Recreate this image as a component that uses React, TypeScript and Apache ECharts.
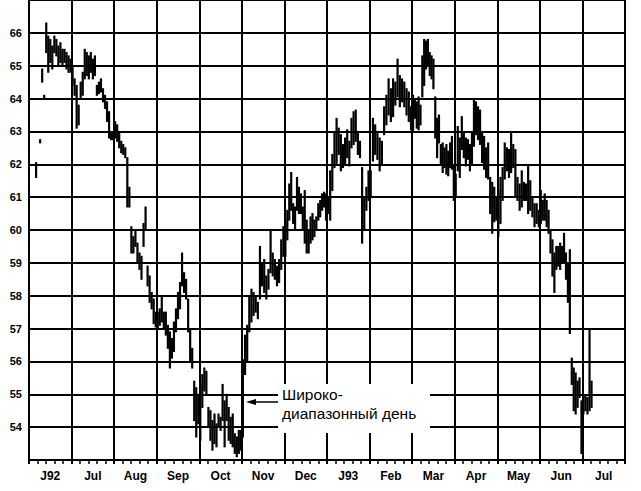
import React, { useEffect, useRef } from "react";
import * as echarts from "echarts";

// Month labels for the x axis (June 1992 .. July 1993)
const monthLabels = ["J92", "Jul", "Aug", "Sep", "Oct", "Nov", "Dec", "J93", "Feb", "Mar", "Apr", "May", "Jun", "Jul"];

// Y axis range (labels shown 54..66)
const priceMin = 53;
const priceMax = 67;

type Bar = [number, number] | null; // [low, high] per trading day

const jun92: Bar[] = [null, null, null, [61.6, 62.05], null, [62.65, 62.75], [64.5, 64.9], [64.0, 64.1], [65.4, 66.3], [64.8, 65.9], [65.1, 65.8], [64.9, 65.6], [65.4, 65.9], [65.3, 65.8], [65.0, 65.6], [65.1, 65.7], [65.0, 65.5], [65.1, 65.5], [64.9, 65.4], [64.8, 65.3], [64.8, 65.2]];
const jul92: Bar[] = [[64.4, 65.0], [64.1, 64.6], [63.1, 64.4], [63.2, 63.8], [64.0, 64.5], [64.1, 64.8], [64.6, 65.5], [64.7, 65.4], [64.6, 65.3], [64.8, 65.4], [64.6, 65.2], [64.7, 65.3], [64.1, 64.4], [64.15, 64.5], [64.2, 64.6], [63.9, 64.3], [63.7, 64.1], [63.3, 63.9], [62.8, 63.6], [62.75, 63.0], [62.75, 62.95]];
const aug92: Bar[] = [[62.8, 63.3], [62.7, 63.2], [62.5, 63.0], [62.35, 62.7], [62.3, 62.6], [62.2, 62.5], [60.7, 62.2], [60.7, 61.3], [59.3, 60.1], [59.3, 59.8], [59.5, 60.0], [59.0, 59.6], [58.8, 59.3], [58.5, 59.2], [59.5, 60.2], [60.0, 60.7], [58.3, 58.9], [57.8, 58.6], [57.6, 58.1], [57.15, 57.9], [57.05, 57.5]];
const sep92: Bar[] = [[57.0, 57.5], [57.1, 57.6], [57.2, 58.0], [57.0, 57.5], [56.8, 57.5], [56.4, 57.1], [55.8, 56.9], [56.1, 56.7], [56.3, 57.2], [56.9, 57.6], [57.3, 58.1], [57.6, 58.4], [58.3, 59.3], [58.1, 58.7], [57.9, 58.5], [56.9, 57.9], [56.0, 57.0], [55.8, 56.4], [54.2, 55.4], [53.7, 55.2], [54.1, 55.0]];
const oct92: Bar[] = [[53.6, 55.3], [54.6, 55.6], [55.1, 55.8], [55.0, 55.7], [54.0, 54.6], [53.6, 54.5], [53.3, 54.2], [53.5, 54.4], [53.4, 54.1], [54.0, 54.4], [53.9, 54.3], [54.2, 55.3], [53.4, 54.8], [54.2, 55.0], [53.6, 54.6], [53.5, 54.3], [53.4, 54.4], [53.2, 53.8], [53.1, 53.7], [53.2, 53.9], [53.3, 53.9]];
const nov92: Bar[] = [[53.7, 56.05], [55.6, 56.8], [56.0, 57.1], [56.9, 58.0], [57.2, 58.2], [57.4, 58.1], [57.5, 58.0], [57.3, 57.8], [57.9, 59.5], [58.3, 59.0], [58.1, 59.1], [57.9, 58.6], [58.2, 58.8], [58.7, 60.0], [58.6, 59.3], [58.5, 59.1], [58.3, 58.9], [58.4, 59.1], [58.8, 59.7], [59.2, 60.1]];
const dec92: Bar[] = [[59.2, 60.3], [59.7, 60.6], [60.3, 61.4], [60.6, 61.75], [60.2, 60.8], [60.0, 60.7], [60.6, 61.6], [60.5, 61.3], [60.5, 61.1], [60.0, 60.7], [59.6, 61.2], [59.3, 60.3], [59.3, 60.0], [59.6, 60.4], [59.7, 60.5], [59.8, 60.3], [60.0, 60.4], [60.3, 60.8], [60.4, 60.9], [60.6, 61.1], [60.7, 61.15], [60.3, 61.1]];
const jan93: Bar[] = [[60.5, 61.0], [60.3, 61.8], [61.2, 62.3], [61.9, 63.0], [62.0, 63.4], [62.3, 63.1], [61.8, 62.9], [61.9, 62.6], [62.0, 62.8], [62.2, 63.05], [61.95, 62.7], [62.5, 63.4], [62.6, 63.6], [62.7, 63.65], [62.3, 63.0], [62.2, 62.7], [59.6, 61.9], [60.0, 61.0], [60.6, 61.3], [60.9, 61.8]];
const feb93: Bar[] = [[61.0, 61.8], [62.1, 63.4], [62.3, 63.2], [62.15, 63.0], [61.8, 62.8], [62.0, 62.7], [62.9, 63.75], [63.2, 64.1], [63.5, 64.6], [63.3, 64.3], [63.45, 64.6], [63.8, 64.5], [64.05, 65.2], [63.75, 64.7], [63.9, 64.6], [63.75, 64.5], [63.5, 64.3], [63.3, 64.2], [63.05, 63.75]];
const mar93: Bar[] = [[63.0, 64.1], [63.4, 64.0], [63.1, 63.9], [63.05, 64.05], [63.2, 63.8], [64.05, 65.3], [64.4, 65.8], [64.9, 65.75], [65.0, 65.8], [64.7, 65.4], [64.6, 65.3], [64.3, 65.2], [62.8, 64.05], [62.2, 63.4], [62.65, 63.5], [62.0, 62.6], [61.75, 62.65], [61.9, 62.5], [61.7, 62.6], [61.65, 62.4], [61.9, 62.65], [61.85, 62.85], [60.9, 62.0]];
const apr93: Bar[] = [[61.0, 61.7], [61.8, 63.15], [61.6, 62.8], [62.45, 63.45], [62.2, 63.0], [61.95, 62.8], [62.15, 62.75], [61.8, 62.6], [62.0, 63.0], [62.55, 64.0], [62.9, 63.9], [62.75, 63.75], [62.6, 63.65], [62.05, 63.0], [61.85, 62.85], [61.6, 62.5], [61.55, 62.65], [60.5, 61.6], [59.9, 61.45], [60.25, 61.3], [60.3, 61.0]];
const may93: Bar[] = [[59.8, 61.2], [60.2, 61.6], [60.9, 61.9], [61.55, 62.65], [61.8, 62.5], [61.6, 62.45], [61.75, 63.0], [61.9, 62.6], [61.0, 62.45], [60.9, 61.6], [60.6, 61.4], [60.7, 61.8], [60.9, 61.45], [60.9, 61.4], [60.5, 61.95], [60.6, 61.5], [60.4, 61.0], [60.1, 60.8], [60.2, 60.8], [60.1, 60.6]];
const jun93: Bar[] = [[60.2, 61.2], [60.3, 60.9], [60.3, 61.1], [60.1, 60.9], [59.9, 60.6], [59.3, 60.0], [58.6, 59.7], [58.1, 59.3], [58.8, 59.5], [58.9, 59.5], [58.8, 59.6], [59.0, 59.5], [59.0, 59.9], [58.5, 59.3], [57.8, 59.0], [56.85, 59.4], [55.3, 56.1], [54.5, 55.8], [54.4, 55.65], [54.6, 55.4], [54.9, 55.5], [53.2, 54.8]];
const jul93: Bar[] = [[54.4, 55.0], [54.5, 54.95], [54.4, 54.9], [54.5, 57.0], [54.6, 55.4], null, null, null, null, null, null, null, null, null, null, null, null, null, null, null, null];

const months: Bar[][] = [jun92, jul92, aug92, sep92, oct92, nov92, dec92, jan93, feb93, mar93, apr93, may93, jun93, jul93];

const annotationText = "Широко-\nдиапазонный день";

export default function App() {
  const ref = useRef<HTMLDivElement>(null);

  useEffect(() => {
    document.body.style.margin = "0";
    if (!ref.current) return;
    const chart = echarts.init(ref.current, undefined, { renderer: "svg" });

    const data: number[][] = [];
    months.forEach((arr, m) => {
      arr.forEach((v, i) => {
        if (v) data.push([m + (i + 0.5) / arr.length, v[0], v[1]]);
      });
    });

    const font = "Liberation Sans";
    const black = "#000";

    chart.setOption({
      animation: false,
      backgroundColor: "#fff",
      grid: { left: 29, right: 16, top: -1, bottom: 31, containLabel: false },
      xAxis: [
        {
          type: "value",
          min: 0,
          max: monthLabels.length,
          interval: 1,
          axisLine: { show: true, lineStyle: { color: black, width: 2 } },
          axisTick: { show: true, length: 4, lineStyle: { color: black, width: 2 } },
          minorTick: { show: true, splitNumber: 5, length: 4, lineStyle: { color: black, width: 1.5 } },
          axisLabel: { show: false },
          splitLine: { show: true, lineStyle: { color: black, width: 2 } },
        },
        {
          type: "category",
          data: monthLabels,
          position: "bottom",
          boundaryGap: true,
          axisLine: { show: false },
          axisTick: { show: false },
          splitLine: { show: false },
          axisLabel: {
            show: true,
            color: black,
            fontFamily: font,
            fontWeight: "bold",
            fontSize: 12,
            margin: 10,
          },
        },
      ],
      yAxis: {
        type: "value",
        min: priceMin,
        max: priceMax,
        interval: 1,
        axisLine: { show: true, lineStyle: { color: black, width: 2 } },
        axisTick: { show: false },
        splitLine: { show: true, lineStyle: { color: black, width: 2 } },
        axisLabel: {
          color: black,
          fontFamily: font,
          fontWeight: "bold",
          fontSize: 11,
          margin: 7,
          formatter: (v: number) => (v > priceMin && v < priceMax ? String(v) : ""),
        },
      },
      series: [
        {
          type: "custom",
          xAxisIndex: 0,
          yAxisIndex: 0,
          encode: { x: 0, y: [1, 2] },
          data,
          renderItem: (params: any, api: any) => {
            const x = api.value(0);
            const p1 = api.coord([x, api.value(1)]);
            const p2 = api.coord([x, api.value(2)]);
            return {
              type: "line",
              shape: { x1: p1[0], y1: p1[1] + 0.5, x2: p2[0], y2: p2[1] - 0.5 },
              style: { stroke: black, lineWidth: 2.2 },
            };
          },
        },
      ],
      graphic: [
        {
          type: "rect",
          z: 100,
          shape: { x: 278, y: 384, width: 152, height: 49 },
          style: { fill: "#fff" },
        },
        {
          type: "text",
          z: 101,
          x: 282,
          y: 385,
          style: {
            text: annotationText,
            fill: black,
            font: `15.5px "${font}"`,
            lineHeight: 19,
          },
        },
        {
          type: "line",
          z: 101,
          shape: { x1: 252, y1: 402, x2: 278, y2: 402 },
          style: { stroke: black, lineWidth: 1.5 },
        },
        {
          type: "polygon",
          z: 101,
          shape: { points: [[246, 402], [256, 399], [256, 405]] },
          style: { fill: black },
        },
      ],
    });

    return () => chart.dispose();
  }, []);

  return <div ref={ref} style={{ width: 641, height: 491 }} />;
}
